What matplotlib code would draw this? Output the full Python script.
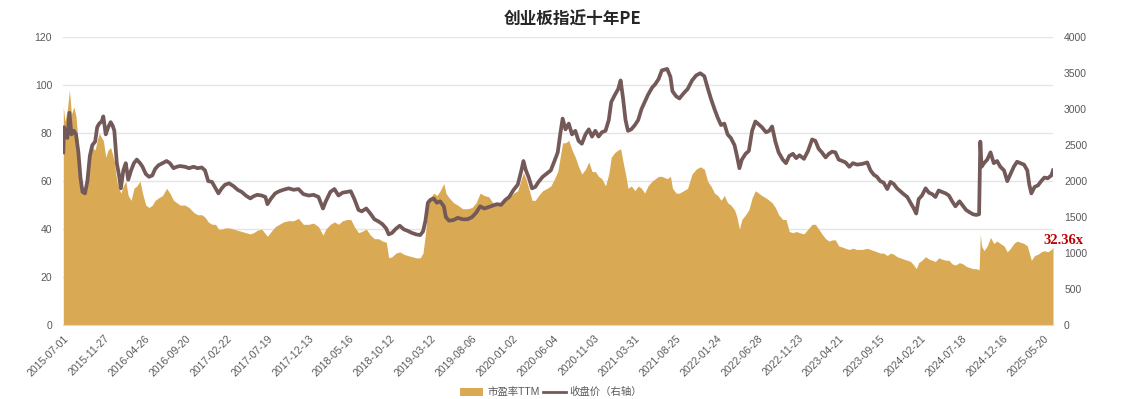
import matplotlib
matplotlib.use("Agg")
import matplotlib.pyplot as plt
from matplotlib.patches import Patch
from matplotlib.lines import Line2D

plt.rcParams['font.family'] = ['Liberation Sans', 'Noto Sans CJK SC', 'DejaVu Sans']

# trading-day index (0 = 2015-07-01)
day_idx = [0, 2, 4, 10, 15, 20, 26, 31, 37, 42, 47, 53, 59, 65, 71, 78, 83, 88, 94, 98,
           104, 110, 116, 121, 125, 131, 136, 141, 147, 153, 159, 166, 173, 180, 188, 194,
           202, 210, 218, 225, 233, 243, 253, 261, 270, 278, 286, 298, 308, 319, 329, 339,
           347, 355, 364, 373, 380, 388, 396, 406, 417, 427, 437, 447, 458, 466, 475, 486,
           495, 500, 509, 519, 529, 539, 552, 564, 576, 588, 601, 613, 625, 636, 643, 654,
           664, 674, 684, 695, 704, 713, 723, 731, 742, 752, 762, 772, 782, 791, 797, 805,
           815, 824, 834, 843, 854, 864, 874, 881, 887, 893, 899, 907, 915, 923, 932, 937,
           945, 956, 966, 978, 990, 1001, 1011, 1021, 1031, 1042, 1052, 1062, 1072, 1083,
           1092, 1103, 1113, 1122, 1127, 1133, 1140, 1148, 1156, 1164, 1174, 1185, 1194,
           1203, 1211, 1217, 1223, 1230, 1238, 1246, 1254, 1262, 1270, 1279, 1287, 1295,
           1303, 1311, 1319, 1328, 1336, 1342, 1351, 1359, 1365, 1371, 1377, 1383, 1391,
           1400, 1408, 1416, 1424, 1432, 1442, 1450, 1458, 1466, 1479, 1487, 1492, 1501,
           1509, 1519, 1529, 1540, 1550, 1560, 1570, 1578, 1586, 1595, 1603, 1611, 1619,
           1627, 1635, 1644, 1650, 1656, 1662, 1671, 1679, 1687, 1695, 1703, 1711, 1721,
           1729, 1736, 1744, 1752, 1762, 1770, 1778, 1787, 1795, 1803, 1814, 1824, 1834,
           1842, 1850, 1858, 1867, 1875, 1883, 1891, 1899, 1908, 1916, 1925, 1934, 1944,
           1957, 1969, 1977, 1985, 1993, 2001, 2009, 2018, 2026, 2034, 2042, 2050, 2058,
           2067, 2075, 2083, 2089, 2095, 2103, 2112, 2120, 2128, 2136, 2144, 2152, 2161,
           2169, 2177, 2185, 2195, 2203, 2211, 2219, 2228, 2236, 2243, 2246, 2249, 2255,
           2263, 2271, 2279, 2287, 2295, 2304, 2312, 2320, 2328, 2336, 2344, 2353, 2361,
           2366, 2371, 2379, 2387, 2395, 2403, 2411, 2420, 2424]

pe_ttm = [91, 88, 85, 90, 98, 88, 91, 87, 75, 62, 57, 58, 63, 70, 74, 73, 77, 80, 78, 77,
          70, 73, 74, 71, 68, 60, 57, 55, 58, 60, 54, 52, 57, 58, 60, 55,
          50, 49, 50, 52, 53, 54, 57, 55, 52, 51, 50, 50, 49, 47, 46, 46,
          45, 43, 42, 42, 40, 40, 40.5, 40.5, 40, 39.5, 39, 38.5, 38, 38.5, 39.5, 40,
          38, 37, 39, 41, 42, 43, 43.5, 43.5, 44.5, 42, 42, 42.5, 41, 37.5, 40, 42,
          43, 42, 43.5, 44, 44, 41, 38.5, 39, 40, 37.5, 36, 36, 35, 34.5, 28, 28.5,
          30, 30.5, 29.5, 29, 28.5, 28, 28, 30, 38, 50, 53, 55, 54, 56, 59, 55,
          53, 51, 50, 48.5, 48.5, 49, 51, 55, 54, 53.5, 51, 51, 51, 52,
          53, 55, 56, 61, 63.5, 61, 57, 52, 52, 54, 56, 57, 58,
          61, 64, 70, 76, 76, 77, 73, 70, 66, 63, 65, 68, 64,
          64, 62, 61, 58, 63, 70, 72, 73, 73.5, 68, 63, 57, 58,
          56, 58, 57, 55, 58, 60, 61, 62, 62, 61, 62, 57, 55,
          55, 56, 57, 63, 65, 66, 65, 60, 58, 55, 54, 52, 54,
          51, 50, 48, 45, 40, 44, 46, 48, 53, 56, 55, 54, 53,
          52, 51, 49, 46, 44, 44, 39, 38.5, 39, 38.5, 38, 40, 42,
          42, 40, 38, 36, 35, 35.5, 35.5, 33, 32.5, 32, 31.5, 32, 31.5,
          31.5, 32, 31.5, 31, 30.5, 30, 30, 29, 30, 29.5, 28.5, 28, 27.5,
          27, 26.5, 25, 23.5, 26, 27, 28.5, 27.5, 27, 26.5, 28, 27.5, 27,
          27, 25.5, 25, 26, 25.5, 24.5, 24, 23.5, 23.5, 23, 38, 33, 31,
          33, 36.5, 34, 35, 34, 33, 30.5, 32, 34, 35, 34.5, 34, 33,
          30, 27, 29, 29.5, 30.5, 31, 30.5, 31.5, 32.36]

close = [2400, 2750, 2700, 2600, 2950, 2650, 2700, 2650, 2400, 2050, 1850, 1830, 2000, 2350,
         2500, 2550, 2750, 2800, 2830, 2900,
         2650, 2750, 2820, 2770, 2700, 2250, 2100, 1900, 2150, 2250, 2020, 2150, 2250, 2300,
         2250, 2200,
         2100, 2060, 2080, 2170, 2220, 2250, 2280, 2250, 2180, 2200, 2210, 2200, 2180, 2200,
         2180, 2190,
         2150, 2000, 1990, 1900, 1830, 1900, 1950, 1970, 1930, 1880, 1850, 1800, 1760, 1790,
         1810, 1800,
         1780, 1680, 1760, 1830, 1860, 1880, 1900, 1880, 1890, 1820, 1800, 1810, 1780, 1620,
         1720, 1850,
         1890, 1800, 1840, 1850, 1860, 1750, 1600, 1580, 1620, 1550, 1470, 1440, 1400, 1340,
         1260, 1280,
         1340, 1380, 1330, 1310, 1280, 1260, 1250, 1300, 1450, 1700, 1740, 1760, 1700, 1720,
         1650, 1500,
         1450, 1460, 1490, 1470, 1470, 1500, 1560, 1650, 1620, 1640, 1660, 1680, 1670, 1740,
         1780, 1880, 1950, 2150, 2280, 2150, 2050, 1900, 1920, 1990, 2060, 2110, 2150,
         2280, 2400, 2650, 2870, 2720, 2800, 2650, 2700, 2560, 2520, 2650, 2720, 2620,
         2700, 2620, 2680, 2700, 2850, 3100, 3200, 3280, 3400, 3150, 2850, 2700, 2720,
         2780, 2850, 3000, 3100, 3200, 3300, 3350, 3420, 3540, 3560, 3450, 3250, 3180,
         3150, 3220, 3280, 3400, 3470, 3500, 3460, 3300, 3150, 3000, 2880, 2780, 2800,
         2650, 2600, 2500, 2350, 2180, 2300, 2380, 2420, 2700, 2830, 2790, 2750, 2680,
         2700, 2760, 2550, 2400, 2300, 2250, 2350, 2380, 2320, 2360, 2310, 2420, 2580,
         2560, 2450, 2400, 2330, 2380, 2410, 2400, 2300, 2280, 2260, 2200, 2250, 2230,
         2240, 2260, 2150, 2090, 2060, 2000, 1980, 1890, 1990, 1960, 1900, 1860, 1820,
         1780, 1700, 1620, 1550, 1750, 1800, 1900, 1840, 1820, 1780, 1870, 1850, 1830,
         1800, 1720, 1650, 1720, 1660, 1600, 1570, 1540, 1530, 1540, 2550, 2200, 2250,
         2300, 2400, 2250, 2280, 2200, 2150, 2000, 2100, 2200, 2270, 2250, 2230, 2150,
         1950, 1830, 1920, 1940, 2000, 2050, 2040, 2080, 2150]

tick_idx = list(range(0, 2401, 100))
tick_labels = ['2015-07-01', '2015-11-27', '2016-04-26', '2016-09-20', '2017-02-22',
               '2017-07-19', '2017-12-13', '2018-05-16', '2018-10-12', '2019-03-12',
               '2019-08-06', '2020-01-02', '2020-06-04', '2020-11-03', '2021-03-31',
               '2021-08-25', '2022-01-24', '2022-06-28', '2022-11-23', '2023-04-21',
               '2023-09-15', '2024-02-21', '2024-07-18', '2024-12-16', '2025-05-20']

gold = '#D9A953'
brown = '#745959'
grey = '#595959'

fig = plt.figure(figsize=(11.46, 3.99), dpi=100)
ax = fig.add_axes([63.3 / 1146, 1 - 325 / 399, (1053 - 63.3) / 1146, (325 - 37.3) / 399])

ax.fill_between(day_idx, pe_ttm, 0, color=gold, linewidth=0)
ax.set_xlim(0, 2424)
ax.set_ylim(0, 120)
ax.set_yticks(range(0, 121, 20))
ax.grid(axis='y', color='#E5E5E5', linewidth=1)
ax.set_axisbelow(True)
ax.set_xticks(tick_idx)
ax.set_xticklabels(tick_labels, rotation=45, ha='right', rotation_mode='anchor')
ax.tick_params(axis='both', length=0, labelsize=7.5, labelcolor=grey)
ax.tick_params(axis='x', pad=6)
ax.tick_params(axis='y', pad=8)
for s in ['top', 'left', 'right']:
    ax.spines[s].set_visible(False)
ax.spines['bottom'].set_color('#D9D9D9')

ax2 = ax.twinx()
ax2.plot(day_idx, close, color=brown, linewidth=2.7, solid_joinstyle='round')
ax2.set_ylim(0, 4000)
ax2.set_yticks(range(0, 4001, 500))
ax2.tick_params(axis='y', length=0, labelsize=7.5, labelcolor=grey, pad=8)
for s in ax2.spines.values():
    s.set_visible(False)

ax.annotate(f'{pe_ttm[-1]:.2f}x', xy=(day_idx[-1], pe_ttm[-1]), xytext=(-10, 7),
            textcoords='offset pixels', ha='left', va='center', color='#C00000',
            fontsize=10.5, fontweight='bold', family=['Liberation Serif', 'DejaVu Serif'])

fig.text(0.5, 1 - 20 / 399, '创业板指近十年PE', ha='center', va='center', fontsize=12,
         fontweight='bold', color='#262626', family=['Noto Sans CJK SC', 'DejaVu Sans'])

handles = [Patch(facecolor=gold, edgecolor='none'),
           Line2D([0], [0], color=brown, linewidth=2)]
fig.legend(handles, ['市盈率TTM', '收盘价（右轴）'], loc='center', bbox_to_anchor=(0.481, 0.017),
           ncol=2, frameon=False, fontsize=7.5, labelcolor=grey, handlelength=2.2,
           handleheight=0.8, columnspacing=0.3, handletextpad=0.4)

fig.savefig('out.png', dpi=100)
